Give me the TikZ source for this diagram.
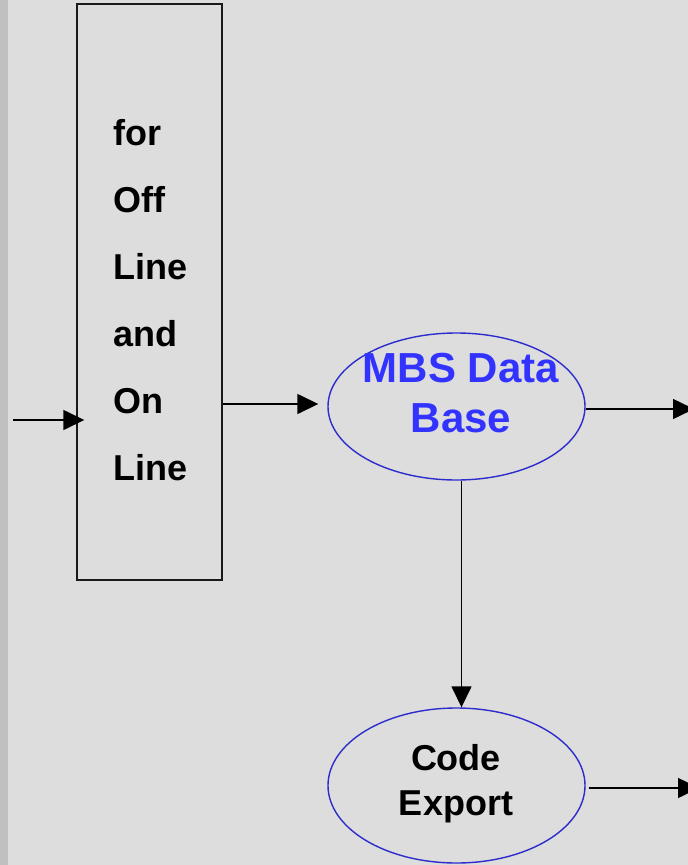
\documentclass[tikz,border=0pt]{standalone}
\usepackage{fontspec}
\setmainfont{Liberation Sans}
\usetikzlibrary{positioning}
\usetikzlibrary{shapes.geometric}
\usetikzlibrary{arrows.meta}
\definecolor{bgcol}{RGB}{221,221,221}
\definecolor{stripcol}{RGB}{192,192,192}
\definecolor{dbblue}{RGB}{51,51,255}
\definecolor{ellblue}{RGB}{45,45,205}

\begin{document}
\begin{tikzpicture}[
      x=1pt, y=-1pt,
      stagebox/.style={draw=black!90, line width=1.4pt, minimum width=145pt, minimum height=576pt, inner sep=0pt},
      stagetxt/.style={font=\fontsize{36}{43}\selectfont\bfseries, inner sep=0pt, anchor=base west},
      oval/.style={draw=ellblue, line width=1.4pt, ellipse, inner sep=0pt},
      ovaltxt/.style={align=center, inner sep=0pt},
      flow/.style={line width=1.5pt, -{Triangle[length=21pt,width=20pt]}}
      ]

      \useasboundingbox (0,0) rectangle (688,865);
      \clip (0,0) rectangle (688,865);
      \fill[bgcol] (0,0) rectangle (688,865);
      \fill[stripcol] (0,0) rectangle (8,865);

      \node[stagebox] (prep) at (149.5,292) {};
      \foreach \w [count=\i] in {for,Off,Line,and,On,Line}
        \node[stagetxt] (w\i) at (113,78+67*\i) {\w};

      \node[oval, minimum width=257pt, minimum height=147pt] (mbs) at (456.5,406.5) {};
      \node[ovaltxt, font=\fontsize{42}{50}\selectfont\bfseries, text=dbblue] (mbslabel) at (461,393) {MBS Data\\Base};

      \node[oval, minimum width=257pt, minimum height=155pt] (code) at (456.5,785.5) {};
      \node[ovaltxt, font=\fontsize{36}{45}\selectfont\bfseries] (codelabel) at (456,784) {Code\\Export};

      \coordinate (in) at (13,420);
      \coordinate (out1) at (694,409);
      \coordinate (out2) at (699,788);

      \draw[flow, shorten >=-8pt] (in) -- (in -| prep.west);
      \draw[flow, shorten >=9pt] (prep.east |- 0,404) -- (mbs.west |- 0,404);
      \draw[flow] (mbs.east |- out1) -- (out1);
      \draw[flow] ([xshift=5pt]mbs.south) -- ([xshift=5pt]code.north);
      \draw[flow, shorten <=3pt] (code.east |- out2) -- (out2);
    \end{tikzpicture}
\end{document}
